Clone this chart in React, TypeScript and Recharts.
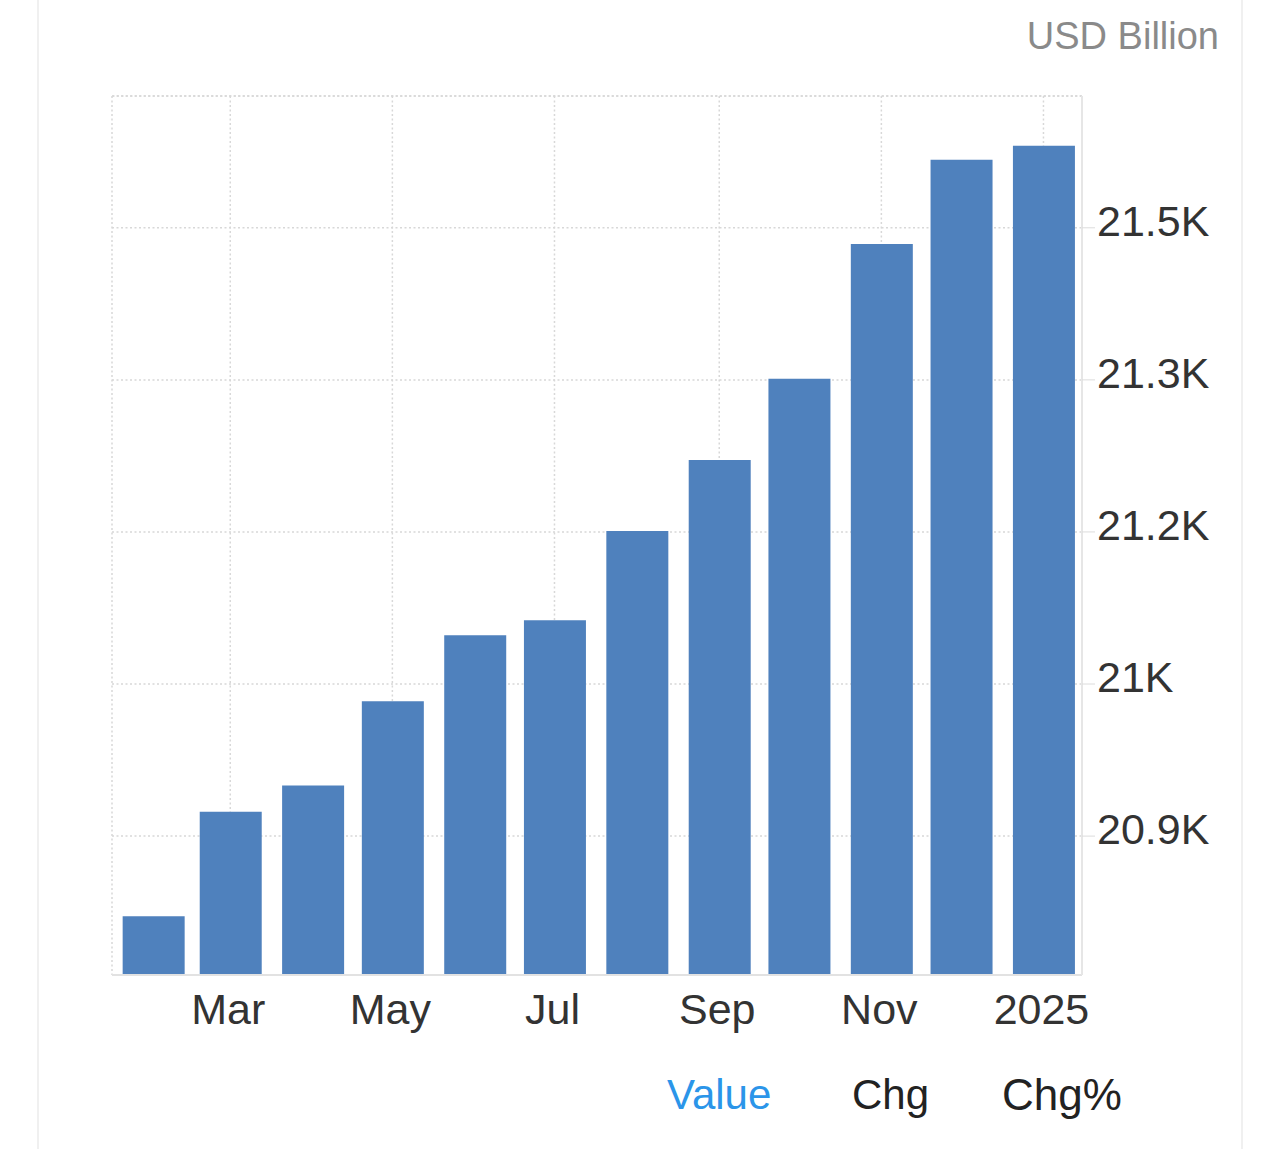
import React from "react";
import {
  BarChart,
  Bar,
  XAxis,
  YAxis,
  CartesianGrid,
  ReferenceLine,
} from "recharts";

// Months (first day of each month)
const months: string[] = [
  "2024-02", "2024-03", "2024-04", "2024-05", "2024-06", "2024-07",
  "2024-08", "2024-09", "2024-10", "2024-11", "2024-12", "2025-01",
];
// Money supply, USD Billion
const values: number[] = [
  20771, 20874, 20900, 20983, 21048, 21063,
  21151, 21221, 21301, 21434, 21517, 21531,
];
// X tick labels (shown on every second month)
const xTickMonths: string[] = ["2024-03", "2024-05", "2024-07", "2024-09", "2024-11", "2025-01"];
const xTickLabels: string[] = ["Mar", "May", "Jul", "Sep", "Nov", "2025"];
// Y ticks
const yTicks: number[] = [20850, 21000, 21150, 21300, 21450];
const yDomain: [number, number] = [20713, 21580];
const tabs: string[] = ["Value", "Chg", "Chg%"];

const DAY = 86400000;
const toDay = (m: string) => {
  const [y, mo] = m.split("-").map(Number);
  return Math.round((Date.UTC(y, mo - 1, 1) - Date.UTC(2024, 1, 1)) / DAY);
};

const data = months.map((m, i) => ({ day: toDay(m), value: values[i] }));
const xTicks = xTickMonths.map(toDay);
const xLabelOf = (d: number) => {
  const i = xTicks.indexOf(d);
  return i >= 0 ? xTickLabels[i] : "";
};
const yFmt = (v: number) => {
  const r = Math.round(v / 100) / 10;
  return `${Number.isInteger(r) ? r.toFixed(0) : r.toFixed(1)}K`;
};

const FONT = '"Liberation Sans", Arial, Helvetica, sans-serif';

export default function App() {
  return (
    <div
      style={{
        position: "absolute",
        left: 0,
        top: 0,
        width: 1280,
        height: 1149,
        background: "#fff",
        fontFamily: FONT,
        overflow: "hidden",
      }}
    >
      <div style={{ position: "absolute", left: 37, top: 0, width: 2, height: 1149, background: "#f0f0f0" }} />
      <div style={{ position: "absolute", left: 1241, top: 0, width: 2, height: 1149, background: "#f0f0f0" }} />
      <div
        style={{
          position: "absolute",
          right: 1280 - 1219,
          top: 14,
          fontSize: 38,
          color: "#8a8a8a",
          lineHeight: "44px",
          whiteSpace: "nowrap",
        }}
      >
        USD Billion
      </div>
      <div style={{ position: "absolute", left: 0, top: 0 }}>
        <BarChart
          width={1280}
          height={1149}
          data={data}
          margin={{ top: 96, right: 0, bottom: 104, left: 112 }}
        >
          <CartesianGrid stroke="#d8d8d8" strokeDasharray="2 2.5" strokeWidth={1.5} />
          <XAxis
            dataKey="day"
            type="number"
            domain={[-15.5, 349.5]}
            ticks={xTicks}
            tickFormatter={xLabelOf}
            tickLine={false}
            tickSize={6}
            tickMargin={12}
            height={70}
            axisLine={{ stroke: "#e2e2e2", strokeWidth: 2 }}
            tick={{ fill: "#333", fontSize: 43, fontFamily: FONT, dx: -2 }}
            allowDataOverflow
          />
          <YAxis
            yAxisId="left"
            orientation="left"
            width={0}
            tick={false}
            tickLine={false}
            axisLine={{ stroke: "#e2e2e2", strokeWidth: 2 }}
            domain={yDomain}
            allowDataOverflow
          />
          <YAxis
            orientation="right"
            width={198}
            domain={yDomain}
            ticks={yTicks}
            tickFormatter={yFmt}
            allowDataOverflow
            tickSize={13}
            tickMargin={2}
            tickLine={{ stroke: "#dcdcdc" }}
            axisLine={{ stroke: "#e6e6e6", strokeWidth: 2 }}
            tick={{ fill: "#333", fontSize: 43, fontFamily: FONT, dy: -7 }}
          />
          <ReferenceLine y={yDomain[1]} stroke="#d8d8d8" strokeDasharray="2 2.5" strokeWidth={1.5} />
          <Bar dataKey="value" fill="#4f81bd" barSize={62} isAnimationActive={false} />
        </BarChart>
      </div>
      {tabs.map((t, i) => (
        <div
          key={t}
          style={{
            position: "absolute",
            left: [667, 852, 1002][i],
            top: 1070,
            fontSize: i === 2 ? 44 : 42,
            lineHeight: "50px",
            color: i === 0 ? "#2b95e9" : "#222",
            whiteSpace: "nowrap",
          }}
        >
          {t}
        </div>
      ))}
    </div>
  );
}
